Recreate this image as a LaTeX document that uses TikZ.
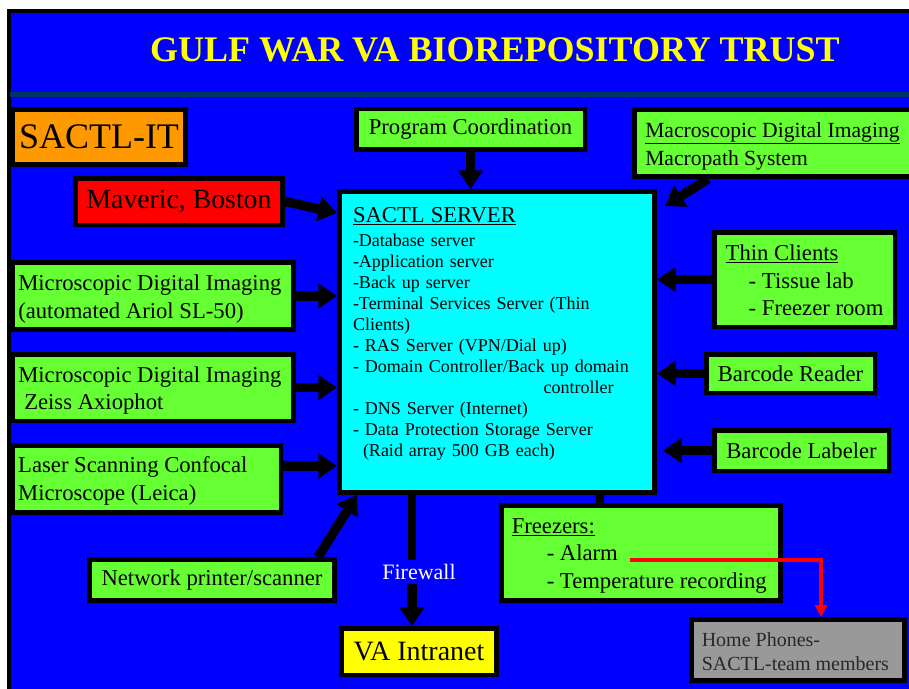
\documentclass[tikz,border=0pt]{standalone}
\usepackage{fontspec}
\setmainfont{Liberation Serif}
\usepackage{xcolor}
\usetikzlibrary{arrows.meta,calc}

\begin{document}
\begin{tikzpicture}[x=0.75pt,y=0.75pt,yscale=-1,xscale=1,
  box/.style={draw, line width=3.4pt, inner sep=0pt, align=left, font=\fontsize{17}{20.75}\selectfont},
  greenbox/.style={box, fill={rgb, 255:red, 102; green, 255; blue, 51 }},
  txt/.style={anchor=west, inner sep=0pt, align=left, font=\fontsize{17}{20.75}\selectfont},
  arr/.style={line width=7pt, -{Triangle[width=18pt,length=14pt]}},
  link/.style={line width=6.5pt},
  alarm/.style={color={rgb, 255:red, 255; green, 0; blue, 0 }, line width=2.6pt, -{Triangle[width=9pt,length=9pt]}}
]

\useasboundingbox (0,0) rectangle (909,688);
\clip (0,0) rectangle (909,688);
\fill [white] (0,0) rectangle (909,688);
\draw [line width=3pt, fill={rgb, 255:red, 0; green, 0; blue, 255 }] (8.5,11) rectangle (940,720);
\fill [color={rgb, 255:red, 0; green, 51; blue, 102 }] (10,92) rectangle (909,97);

\node (title) [font=\bfseries\fontsize{27}{32}\selectfont, text={rgb, 255:red, 255; green, 255; blue, 0 }] at (495,50) {GULF WAR VA BIOREPOSITORY TRUST};

\node (it) [box, fill={rgb, 255:red, 255; green, 153; blue, 0 }, minimum width=130.1pt, minimum height=41.6pt, font=\fontsize{27}{32}\selectfont] at (99,137) {SACTL-IT};
\node (mav) [box, fill={rgb, 255:red, 255; green, 0; blue, 0 }, minimum width=155.6pt, minimum height=34.9pt, font=\fontsize{20.8}{24}\selectfont] at (179,201.5) {Maveric, Boston};
\node (prog) [greenbox, minimum width=171.4pt, minimum height=30.4pt] at (470.5,129.5) {Program Coordination};
\node (macro) [greenbox, minimum width=247.5pt, minimum height=50.6pt] at (799.25,143) {};
\node (server) [box, fill={rgb, 255:red, 0; green, 255; blue, 255 }, text width=216pt, inner xsep=10.3pt, minimum height=226.1pt, font=\fontsize{13.5}{15.75}\selectfont] at (497,342) {{\fontsize{17}{20}\selectfont\underline{SACTL SERVER}}\\[2.25pt]
-Database server\\
-Application server\\
-Back up server\\
-Terminal Services Server (Thin\\
Clients)\\
- RAS Server (VPN/Dial up)\\
- Domain Controller/Back up domain\\
\hspace*{143pt}controller\\
- DNS Server (Internet)\\
- Data Protection Storage Server\\
\hspace*{7.5pt}(Raid array 500 GB each)\rule[-15pt]{0pt}{1pt}};
\node (thin) [greenbox, minimum width=135.4pt, minimum height=70.9pt] at (804.5,279.5) {};
\node (bcr) [greenbox, minimum width=126.4pt, minimum height=28.9pt] at (790.5,373.5) {Barcode Reader};
\node (bcl) [greenbox, minimum width=130.9pt, minimum height=30.4pt] at (801.5,450.5) {Barcode Labeler};
\node (mdi1) [greenbox, minimum width=211.1pt, minimum height=50.6pt] at (153,296) {};
\node (mdi2) [greenbox, minimum width=211.1pt, minimum height=49.9pt] at (153,387.5) {};
\node (laser) [greenbox, minimum width=201.4pt, minimum height=50.6pt] at (146.5,479) {};
\node (netp) [greenbox, minimum width=184.1pt, minimum height=31.1pt] at (212,580) {Network printer/scanner};
\node (vaint) [box, fill={rgb, 255:red, 255; green, 255; blue, 0 }, minimum width=116.6pt, minimum height=34.9pt, font=\fontsize{21}{24}\selectfont] at (419,651.5) {VA Intranet};
\node (frz) [greenbox, minimum width=209.6pt, minimum height=71.6pt] at (641,553) {};
\node (phones) [box, fill={rgb, 255:red, 153; green, 153; blue, 153 }, minimum width=160.1pt, minimum height=46.1pt] at (798,650) {};
\node (firewall) [font=\fontsize{16.5}{20}\selectfont, text=white, inner sep=3pt] at (419,572) {Firewall};

\node (macrotxt) [txt, font=\fontsize{16.2}{21}\selectfont] at ($(macro.west)+(13,3)$) {\underline{Macroscopic Digital Imaging}\\Macropath System};
\node (thintxt) [txt] at ($(thin.west)+(13.5,1)$) {\underline{Thin Clients}\\\hspace*{17.25pt}- Tissue lab\\\hspace*{17.25pt}- Freezer room};
\node (mdi1txt) [txt] at ($(mdi1.west)+(8,3)$) {Microscopic Digital Imaging\\(automated Ariol SL-50)};
\node (mdi2txt) [txt] at ($(mdi2.west)+(8,3)$) {Microscopic Digital Imaging\\\hspace*{4.5pt}Zeiss Axiophot};
\node (lasertxt) [txt] at ($(laser.west)+(8,2)$) {Laser Scanning Confocal\\Microscope (Leica)};
\node (frztxt) [txt] at ($(frz.west)+(12.5,3)$) {\underline{Freezers:}\\\hspace*{26.25pt}- Alarm\\\hspace*{26.25pt}- Temperature recording};
\node (phonestxt) [txt, font=\fontsize{15}{18}\selectfont, text={rgb, 255:red, 40; green, 40; blue, 40 }] at ($(phones.west)+(12.5,2)$) {Home Phones-\\SACTL-team members};

\coordinate (lsr) at ($(laser.east)+(0,-13)$);
\coordinate (fw) at ($(firewall)+(-7,0)$);
\coordinate (fz) at ($(frz.north west)+(101,0)$);
\coordinate (alarmend) at (630,560);

\draw [arr] (prog.south) -- (prog.south |- server.north);
\draw [arr] (mav.east) -- ($(server.north west)+(0,24)$);
\draw [arr] (mdi1.east) -- (mdi1.east -| server.west);
\draw [arr] (mdi2.east) -- (mdi2.east -| server.west);
\draw [arr] (lsr) -- (lsr -| server.west);
\draw [arr] ($(netp.north east)+(-19,0)$) -- ($(server.south west)+(20,0)$);
\draw [arr] ($(macro.south west)+(76,0)$) -- ($(server.north east)+(8,17)$);
\draw [arr] (thin.west) -- (thin.west -| server.east);
\draw [arr] (bcr.west) -- (bcr.west -| server.east);
\draw [arr, shorten >=4.5pt] (bcl.west) -- (bcl.west -| server.east);
\draw [link] (fw |- server.south) -- (fw |- firewall.north);
\draw [arr] (fw |- firewall.south) -- (fw |- vaint.north);
\draw [link] (fz) -- (fz |- server.south);
\draw [alarm] (alarmend) -| ($(phones.north)+(23,0)$);

\end{tikzpicture}
\end{document}
